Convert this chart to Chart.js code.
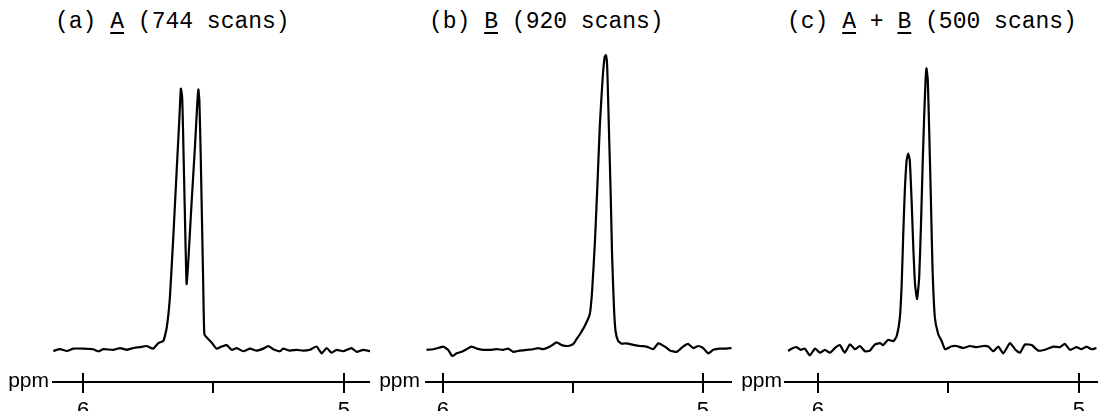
<!DOCTYPE html>
<html>
<head>
<meta charset="utf-8">
<script src="https://cdn.jsdelivr.net/npm/chart.js@4.4.1/dist/chart.umd.min.js"></script>
<style>
    html, body { margin: 0; padding: 0; background: #fff; }
    body { width: 1098px; height: 411px; overflow: hidden; position: relative; }
    .panel { position: absolute; top: 0; }
    .title {
        position: absolute; top: 11px; white-space: pre;
        font-family: 'Liberation Mono', 'DejaVu Sans Mono', monospace;
        font-size: 23px; line-height: 23px; color: #000;
    }
    .title u { text-decoration-thickness: 2px; text-underline-offset: 4px; }
</style>
</head>
<body>

<div class="title" style="left:55px">(a) <u>A</u> (744 scans)</div>
<div class="title" style="left:429px">(b) <u>B</u> (920 scans)</div>
<div class="title" style="left:787px">(c) <u>A</u> + <u>B</u> (500 scans)</div>

<div class="panel" style="left:0px"><canvas id="specA" width="370" height="440"></canvas></div>
<div class="panel" style="left:370px"><canvas id="specB" width="362" height="440"></canvas></div>
<div class="panel" style="left:732px"><canvas id="specC" width="366" height="440"></canvas></div>

<script>
// chemical shift (ppm) and intensity (arb. units, tallest peak of B = 100)
const ppmA = [6.114, 6.088, 6.062, 6.037, 5.999, 5.961, 5.941, 5.922, 5.884, 5.858, 5.833, 5.807, 5.782, 5.756, 5.731, 5.711,
    5.692, 5.679, 5.667, 5.654, 5.641, 5.631, 5.625, 5.620, 5.616, 5.609, 5.603, 5.597, 5.584, 5.571, 5.562, 5.558, 5.554,
    5.549, 5.544, 5.539, 5.535, 5.526, 5.507, 5.488, 5.469, 5.449, 5.430, 5.411, 5.386, 5.360, 5.334, 5.309, 5.290, 5.271,
    5.245, 5.233, 5.207, 5.181, 5.156, 5.130, 5.105, 5.085, 5.066, 5.047, 5.028, 5.003, 4.971, 4.951, 4.926, 4.900];
const intA = [-0.7, -0.1, -0.7, 0.1, 0.1, -0.1, -0.8, -0.1, -0.3, 0.3, -0.3, 0.3, 0.6, 1.0, 0.1, 2.0,
    2.7, 7.3, 17.5, 38.0, 60.7, 77.8, 88.6, 85.8, 72.1, 43.7, 22.1, 29.0, 49.5, 68.7, 83.6, 88.3, 84.6,
    66.6, 43.7, 20.9, 5.0, 3.9, 2.2, 0.1, 0.8, 1.3, -0.3, 0.3, -0.8, 0.1, -0.6, 0.1, 1.0, -0.1,
    -0.8, 0.1, -0.6, -0.3, -0.6, -0.3, 0.8, -1.5, 0.3, -1.3, -0.3, -0.8, 0.3, -1.0, -0.3, -0.8];

const ppmB = [6.063, 6.037, 6.018, 5.999, 5.980, 5.964, 5.947, 5.928, 5.909, 5.890, 5.870, 5.845, 5.819, 5.793, 5.768, 5.749,
    5.730, 5.704, 5.678, 5.653, 5.633, 5.614, 5.588, 5.563, 5.543, 5.518, 5.499, 5.486, 5.473, 5.454, 5.435, 5.426,
    5.415, 5.405, 5.396, 5.386, 5.378, 5.373, 5.368, 5.362, 5.355, 5.349, 5.342, 5.336, 5.326, 5.313, 5.295, 5.268,
    5.242, 5.217, 5.191, 5.172, 5.146, 5.127, 5.101, 5.076, 5.057, 5.037, 5.018, 4.999, 4.979, 4.960, 4.935, 4.909, 4.890];
const intB = [-0.3, -0.1, 0.3, 0.8, -0.3, -2.4, -1.5, -1.0, -0.1, 0.8, 0.1, -0.3, -0.3, -0.1, -0.3, 0.1,
    -1.0, -0.6, -0.3, -0.1, 0.3, -0.1, 0.8, 2.2, 1.3, 1.0, 1.6, 3.3, 5.0, 7.9, 11.8, 19.8,
    36.9, 57.3, 76.7, 91.5, 99.4, 100, 96.0, 76.7, 53.9, 31.2, 14.1, 6.1, 2.7, 1.8, 1.9, 1.4,
    1.0, 0.8, -0.1, 1.9, 0.8, -0.5, -1.0, 0.8, 1.7, 0.3, 1.0, 0.3, -1.5, -0.3, 0.1, 0.1, 0.3];

const ppmC = [6.114, 6.101, 6.082, 6.066, 6.050, 6.031, 6.011, 5.992, 5.973, 5.954, 5.935, 5.916, 5.897, 5.877, 5.858, 5.839,
    5.820, 5.801, 5.782, 5.762, 5.750, 5.731, 5.711, 5.698, 5.686, 5.679, 5.673, 5.667, 5.660, 5.654, 5.648, 5.641,
    5.635, 5.628, 5.620, 5.612, 5.605, 5.599, 5.593, 5.587, 5.584, 5.579, 5.574, 5.567, 5.561, 5.552, 5.539, 5.526,
    5.513, 5.488, 5.469, 5.443, 5.418, 5.392, 5.367, 5.347, 5.328, 5.309, 5.290, 5.264, 5.245, 5.226, 5.207, 5.181,
    5.156, 5.124, 5.098, 5.073, 5.054, 5.034, 5.009, 4.990, 4.971, 4.952, 4.933];
const intC = [-0.7, 0.1, 0.6, -0.3, 0.1, -2.2, 0.1, -1.3, -0.3, -1.3, 0.3, 1.3, -1.3, 1.6, -0.1, 1.0,
    -0.8, -0.6, 1.5, 2.0, 1.3, 3.1, 2.6, 4.4, 10.7, 22.1, 39.1, 53.9, 64.2, 66.5, 64.2, 50.5,
    35.7, 22.1, 17.0, 24.3, 42.6, 61.9, 78.9, 92.6, 95.5, 91.5, 75.5, 50.5, 27.7, 10.7, 5.0, 2.7,
    -0.1, 0.9, 1.0, 0.3, 1.0, 0.6, 1.0, 0.8, -0.8, 0.8, -1.5, 2.0, -0.1, -1.3, 1.5, 1.3,
    -0.6, -0.1, 0.8, 0.6, 1.7, -0.3, 0.6, -0.1, 0.8, -0.1, 0.3];

const tickValues = [6, 5.5, 5];
const majorTicks = [6, 5];

// draws the upward half of the major ticks and the "ppm" label
const axisExtras = {
    id: 'axisExtras',
    afterDraw(chart, args, opts) {
        const { ctx, chartArea, scales: { x } } = chart;
        ctx.save();
        ctx.strokeStyle = '#000';
        ctx.lineWidth = 2;
        majorTicks.forEach(v => {
            const px = Math.round(x.getPixelForValue(v));
            ctx.beginPath();
            ctx.moveTo(px, chartArea.bottom - 9);
            ctx.lineTo(px, chartArea.bottom);
            ctx.stroke();
        });
        ctx.fillStyle = '#000';
        ctx.font = '21px "Liberation Sans", Arial, sans-serif';
        ctx.textAlign = 'right';
        ctx.textBaseline = 'alphabetic';
        ctx.fillText('ppm', chartArea.left - opts.gap, chartArea.bottom + 5);
        ctx.restore();
    }
};

function makeSpectrum(id, ppm, intensity, xmin, xmax, padLeft, gap) {
    const ctx = document.getElementById(id);
    return new Chart(ctx.getContext('2d'), {
        type: 'line',
        data: {
            datasets: [{
                data: ppm.map((p, i) => ({ x: p, y: intensity[i] })),
                borderColor: '#000',
                borderWidth: 2.2,
                pointRadius: 0,
                tension: 0.15,
                fill: false
            }]
        },
        options: {
            responsive: false,
            animation: false,
            devicePixelRatio: 1,
            layout: { padding: { left: padLeft, right: 0, top: 0, bottom: 10.6 } },
            plugins: {
                legend: { display: false },
                tooltip: { enabled: false },
                axisExtras: { gap: gap }
            },
            scales: {
                x: {
                    type: 'linear',
                    reverse: true,
                    min: xmin,
                    max: xmax,
                    afterBuildTicks: axis => { axis.ticks = tickValues.map(v => ({ value: v })); },
                    grid: { drawOnChartArea: false, drawTicks: true, tickLength: 11, color: '#000', lineWidth: 2 },
                    border: { display: true, color: '#000', width: 2 },
                    ticks: {
                        padding: 5,
                        maxRotation: 0,
                        color: '#000',
                        font: { family: "'Liberation Sans', Arial, sans-serif", size: 22 },
                        callback: v => (v === 5.5 ? '' : String(v))
                    }
                },
                y: { display: false, min: -11.26, max: 118.77 }
            }
        },
        plugins: [axisExtras]
    });
}

makeSpectrum('specA', ppmA, intA, 4.900, 6.115, 53, 4);
makeSpectrum('specB', ppmB, intB, 4.888, 6.065, 56, 6);
makeSpectrum('specC', ppmC, intC, 4.927, 6.126, 53, 3);
</script>
</body>
</html>
